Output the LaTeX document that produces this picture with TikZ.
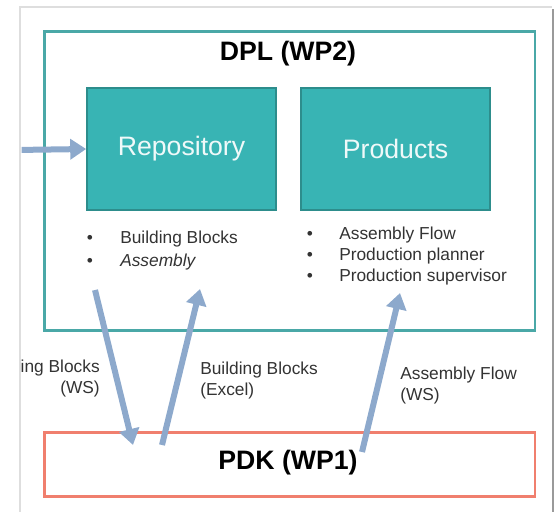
\documentclass[tikz,border=0pt]{standalone}
\usepackage{fontspec}
\setmainfont{Liberation Sans}
\usetikzlibrary{arrows.meta, positioning, calc}

\definecolor{dplline}{HTML}{4AA8A7}
\definecolor{blockfill}{HTML}{38B4B4}
\definecolor{blockline}{HTML}{2D8D8C}
\definecolor{pdkline}{HTML}{F07F6E}
\definecolor{flowblue}{HTML}{8DA9CC}
\definecolor{panelgray}{HTML}{DEDEDE}
\definecolor{paneldark}{HTML}{9A9A9A}
\definecolor{listtext}{HTML}{333333}

\tikzstyle{wpbox} = [rectangle, anchor=north west, line width=2pt,
  minimum width=368pt, inner sep=0pt]
\tikzstyle{block} = [rectangle, draw=blockline, fill=blockfill, line width=1.2pt,
  minimum width=141.75pt, minimum height=91.5pt, text=white!92!blockfill,
  font=\fontsize{20}{24}\selectfont]
\tikzstyle{wptitle} = [font=\fontsize{20}{24}\selectfont\bfseries, text=black]
\tikzstyle{listitem} = [anchor=west, inner sep=0pt, text=listtext,
  font=\fontsize{13}{15.6}\selectfont]
\tikzstyle{dot} = [inner sep=0pt, text=listtext, font=\fontsize{13}{15.6}\selectfont]
\tikzstyle{flowlabel} = [inner sep=0pt, text=listtext,
  font=\fontsize{13}{15.75}\selectfont]
\tikzstyle{flow} = [-{Triangle[length=12pt, width=15pt]}, line width=4.5pt, flowblue]

\begin{document}
\begin{tikzpicture}[x=0.75pt, y=-0.75pt]
  \useasboundingbox (0,0) rectangle (556,511);
  \clip (0,0) rectangle (556,511);

  % outer panel
  \draw[panelgray, line width=2.2pt] (20,513) -- (20,7) -- (552,7);
  \draw[paneldark, line width=2.2pt] (553,9) -- (553,513);

  \begin{scope}
  \clip (21.5,9) rectangle (551,511);

  \node[wpbox, draw=dplline, minimum height=224.25pt] (dpl) at (43,30) {};
  \node[wptitle] (dpltitle) at (288,54) {DPL (WP2)};

  \node[block] (repo) at (181.5,149) {Repository};
  \node[block] (prod) at (395.5,149) {Products};

  \foreach \y/\t [count=\i] in {239/Building Blocks, 262/\textit{Assembly}} {
    \node[dot] (repodot\i) at (90,\y) {\textbullet};
    \node[listitem] (repoitem\i) at (120,\y) {\t};
  }
  \foreach \y/\t [count=\i] in {235/Assembly Flow, 256/Production planner,
      277/Production supervisor} {
    \node[dot] (proddot\i) at (310,\y) {\textbullet};
    \node[listitem] (proditem\i) at (339,\y) {\t};
  }

  \node[wpbox, draw=pdkline, minimum height=48pt] (pdk) at (43,431) {};
  \node[wptitle] (pdktitle) at (288,463) {PDK (WP1)};

  % flows
  \coordinate (feed) at (15,150);
  \coordinate (wsout) at (95,290);
  \coordinate (wsin) at (133,445);
  \coordinate (xlsout) at (162,445);
  \coordinate (xlsin) at (200,289);
  \coordinate (afout) at (362,452);
  \coordinate (afin) at (400,293);

  \draw[flow] (feed) -- (repo.west);
  \draw[flow] (wsout) -- (wsin);
  \draw[flow] (xlsout) -- (xlsin);
  \draw[flow] (afout) -- (afin);

  \node[flowlabel, anchor=east, align=right] (wslabel) at (100,379) {Building Blocks\\(WS)};
  \node[flowlabel, anchor=west, align=left] (xlslabel) at (200,381) {Building Blocks\\(Excel)};
  \node[flowlabel, anchor=west, align=left] (aflabel) at (400,386) {Assembly Flow\\(WS)};
  \end{scope}

\end{tikzpicture}
\end{document}
